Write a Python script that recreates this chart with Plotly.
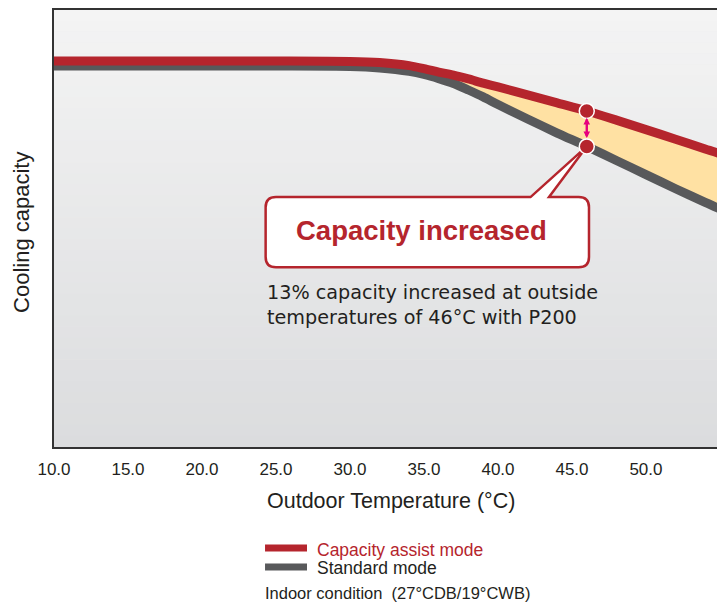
import plotly.graph_objects as go

# ---- data ----
temps = [10, 15, 20, 25, 30, 32, 34, 35, 36, 37, 38, 39, 40, 42, 44, 46, 48, 50, 52, 54, 55]
assist_mode = [101.3, 101.3, 101.3, 101.3, 101.2, 100.9, 100.1, 99.3, 98.4, 97.6, 96.6, 95.5,
               94.5, 92.4, 90.3, 88.2, 85.8, 83.3, 80.8, 78.2, 77.0]
standard_mode = [100.0, 100.0, 100.0, 100.0, 99.9, 99.5, 98.6, 97.8, 96.7, 95.4, 93.7, 91.9,
                 89.9, 86.1, 82.4, 78.9, 75.2, 71.5, 67.8, 64.2, 62.5]
x_ticks = [10, 15, 20, 25, 30, 35, 40, 45, 50]
x_tick_labels = ["10.0", "15.0", "20.0", "25.0", "30.0", "35.0", "40.0", "45.0", "50.0"]
highlight_temp = 46

RED = "#B5252D"
GREY = "#58595B"
YELLOW = "#FFE1A3"
MAGENTA = "#E6007E"
DARK = "#231F20"
SANS = "Liberation Sans, Arial, sans-serif"
WIDE = "DejaVu Sans, sans-serif"

i46 = temps.index(highlight_temp)
red46 = assist_mode[i46]
grey46 = standard_mode[i46]

fig = go.Figure()
fig.add_trace(go.Scatter(x=temps, y=standard_mode, mode="lines", name="Standard mode",
                         line=dict(color=GREY, width=9, shape="spline", smoothing=0.8),
                         showlegend=False, hoverinfo="skip"))
fig.add_trace(go.Scatter(x=temps, y=assist_mode, mode="lines", name="Capacity assist mode",
                         line=dict(color=RED, width=9, shape="spline", smoothing=0.8),
                         fill="tonexty", fillcolor=YELLOW,
                         showlegend=False, hoverinfo="skip"))
fig.add_trace(go.Scatter(x=[highlight_temp, highlight_temp], y=[red46, grey46], mode="markers",
                         marker=dict(size=15, color=RED, line=dict(color="white", width=1.5)),
                         showlegend=False, hoverinfo="skip"))

shapes = []
# vertical gradient background of the plot area
n = 40
top = (244, 244, 244)
bot = (219, 220, 222)
for k in range(n):
    t = (k + 0.5) / n
    c = tuple(round(top[j] + (bot[j] - top[j]) * t) for j in range(3))
    shapes.append(dict(type="rect", xref="x domain", yref="y domain",
                       x0=0, x1=1, y0=1 - (k + 1) / n, y1=1 - k / n + 0.001,
                       fillcolor="rgb(%d,%d,%d)" % c, line=dict(width=0), layer="below"))

# callout box with pointer to the standard-mode point at 46 °C
bx0, bx1, by0, by1 = 24.3, 46.15, 47.2, 65.6
rx, ry = 0.7, 2.7
p0, p1 = 42.2, 43.45
path = (f"M {bx0+rx},{by1} L {p0},{by1} L {highlight_temp},{grey46} L {p1},{by1} "
        f"L {bx1-rx},{by1} Q {bx1},{by1} {bx1},{by1-ry} L {bx1},{by0+ry} "
        f"Q {bx1},{by0} {bx1-rx},{by0} L {bx0+rx},{by0} Q {bx0},{by0} {bx0},{by0+ry} "
        f"L {bx0},{by1-ry} Q {bx0},{by1} {bx0+rx},{by1} Z")
shapes.append(dict(type="path", xref="x", yref="y", path=path, fillcolor="white",
                   line=dict(color=RED, width=2.5), layer="below"))

# legend swatches
shapes.append(dict(type="line", xref="paper", yref="paper", x0=0.3183, x1=0.3816,
                   y0=-0.2311, y1=-0.2311, line=dict(color=RED, width=7)))
shapes.append(dict(type="line", xref="paper", yref="paper", x0=0.3183, x1=0.3816,
                   y0=-0.2746, y1=-0.2746, line=dict(color=GREY, width=7)))

annotations = [
    # double arrow between the two points
    dict(x=highlight_temp, y=red46 - 1.8, ax=highlight_temp, ay=grey46 + 1.8,
         xref="x", yref="y", axref="x", ayref="y", text="", showarrow=True,
         arrowside="end+start", arrowhead=2, arrowsize=0.55, arrowwidth=2.4,
         arrowcolor=MAGENTA, standoff=0, startstandoff=0),
    dict(x=0.555, y=0.4943, xref="paper", yref="paper", text="<b>Capacity increased</b>",
         showarrow=False, xanchor="center", yanchor="middle",
         font=dict(family=SANS, size=27.5, color=RED)),
    dict(x=0.3183, y=0.325, xref="paper", yref="paper",
         text="13% capacity increased at outside<br>temperatures of 46°C with P200",
         showarrow=False, xanchor="left", yanchor="middle", align="left",
         font=dict(family=WIDE, size=19.2, color=DARK)),
    dict(x=0.508, y=-0.1236, xref="paper", yref="paper", text="Outdoor Temperature (°C)",
         showarrow=False, xanchor="center", yanchor="middle",
         font=dict(family=SANS, size=21.5, color=DARK)),
    dict(x=-0.0483, y=0.492, xref="paper", yref="paper", text="Cooling capacity",
         showarrow=False, xanchor="center", yanchor="middle", textangle=-90,
         font=dict(family=SANS, size=22, color=DARK)),
    dict(x=0.3937, y=-0.2357, xref="paper", yref="paper", text="Capacity assist mode",
         showarrow=False, xanchor="left", yanchor="middle",
         font=dict(family=SANS, size=17.5, color=RED)),
    dict(x=0.3937, y=-0.2769, xref="paper", yref="paper", text="Standard mode",
         showarrow=False, xanchor="left", yanchor="middle",
         font=dict(family=SANS, size=17.5, color=DARK)),
    dict(x=0.3152, y=-0.3341, xref="paper", yref="paper",
         text="Indoor condition  (27°CDB/19°CWB)",
         showarrow=False, xanchor="left", yanchor="middle",
         font=dict(family=SANS, size=16.5, color=DARK)),
]

fig.update_layout(
    width=717, height=603,
    margin=dict(l=54, r=0, t=10, b=156),
    paper_bgcolor="white", plot_bgcolor="#EBEBEC",
    shapes=shapes, annotations=annotations,
    xaxis=dict(range=[10, 54.8], tickvals=x_ticks, ticktext=x_tick_labels,
               showgrid=False, zeroline=False, showline=True, linecolor="#333333",
               linewidth=2, mirror=True, ticks="", ticklabelstandoff=6,
               tickfont=dict(family=SANS, size=17, color=DARK), fixedrange=True),
    yaxis=dict(range=[0, 114.7], showgrid=False, zeroline=False, showline=True,
               linecolor="#333333", linewidth=2, showticklabels=False, ticks="",
               fixedrange=True),
    showlegend=False,
)

# remove the page's default body margin so the 717x603 figure fills the window exactly
fig.write_html("out.html", config={"displayModeBar": False},
               post_script="document.body.style.margin='0';document.body.style.overflow='hidden';")
